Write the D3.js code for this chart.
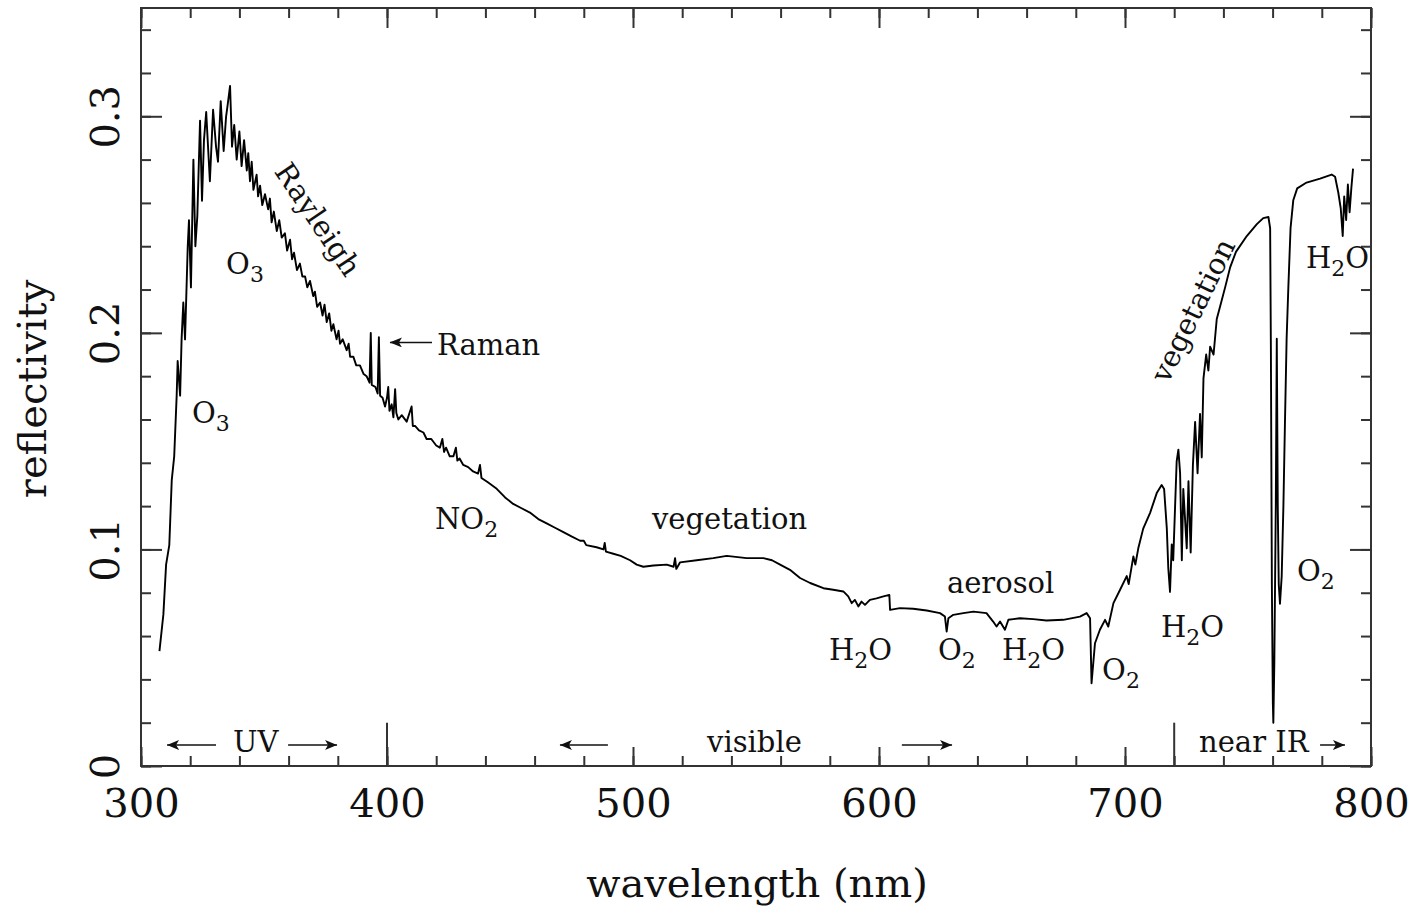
<!DOCTYPE html>
<html>
<head>
<meta charset="utf-8">
<script src="https://cdn.jsdelivr.net/npm/d3@7"></script>
<style>
  body { margin: 0; background: #fff; }
  svg { display: block; }
  text { font-family: "DejaVu Serif", "Liberation Serif", serif; fill: #111; }
</style>
</head>
<body>
<div id="vis-container"></div>
<script>

////////////////////////////////////
/////////////// Data ///////////////
////////////////////////////////////

// [wavelength nm, reflectivity], region by region
const uvRise = [
    [307.5, 0.053], [309.1, 0.070], [310.2, 0.093], [311.5, 0.102], [312.5, 0.132], [313.5, 0.143],
    [314.5, 0.171], [314.9, 0.187], [315.9, 0.171], [316.5, 0.197], [317.2, 0.214], [317.9, 0.197],
    [319.0, 0.240], [319.5, 0.252], [320.3, 0.221], [321.3, 0.280], [322.1, 0.240], [322.9, 0.254],
    [324.0, 0.298], [324.8, 0.261], [325.6, 0.289], [326.5, 0.302], [328.0, 0.270], [329.3, 0.303],
    [330.5, 0.286], [331.3, 0.279], [332.4, 0.307], [333.6, 0.284], [334.6, 0.300], [335.2, 0.305],
    [336.2, 0.314], [337.0, 0.286], [337.9, 0.296], [338.9, 0.280], [340.0, 0.293], [340.9, 0.277],
    [341.9, 0.289], [343.0, 0.275], [343.6, 0.283], [344.3, 0.270], [345.0, 0.279], [345.7, 0.266],
    [347.0, 0.273], [347.6, 0.263], [348.4, 0.268], [349.3, 0.259], [350.4, 0.264], [351.7, 0.257],
    [352.4, 0.262], [353.1, 0.251], [354.0, 0.256], [355.2, 0.247], [356.2, 0.252], [357.2, 0.244],
    [358.5, 0.246], [359.4, 0.238], [360.6, 0.243], [361.4, 0.234], [362.2, 0.237], [363.4, 0.229],
    [364.6, 0.232], [365.6, 0.226]
]

const rayleighTail = [
    [366.7, 0.226], [367.6, 0.221], [368.7, 0.224], [370.0, 0.217], [370.7, 0.219], [371.6, 0.212],
    [372.8, 0.214], [373.8, 0.208], [374.6, 0.213], [375.5, 0.205], [376.5, 0.209], [377.4, 0.201],
    [378.2, 0.204], [379.5, 0.197], [380.3, 0.201], [380.9, 0.195], [382.0, 0.197], [383.6, 0.192],
    [384.4, 0.195], [385.0, 0.189], [386.3, 0.189], [387.5, 0.185], [389.0, 0.185], [390.5, 0.181],
    [391.7, 0.180], [392.9, 0.177], [393.4, 0.200], [393.8, 0.176], [395.3, 0.175], [396.2, 0.172],
    [396.7, 0.198], [397.2, 0.171], [398.2, 0.170], [399.2, 0.166], [400.0, 0.170], [400.5, 0.175],
    [401.0, 0.164], [401.9, 0.167], [402.6, 0.161], [403.3, 0.174], [403.8, 0.163], [404.6, 0.160],
    [406.0, 0.162], [408.0, 0.159], [410.0, 0.166], [410.5, 0.157], [411.4, 0.157], [413.0, 0.155],
    [414.8, 0.154], [416.1, 0.151], [418.0, 0.151], [420.0, 0.148], [421.5, 0.147], [422.5, 0.151],
    [423.2, 0.145], [424.0, 0.147], [425.5, 0.143], [427.0, 0.143], [428.0, 0.147], [428.6, 0.141],
    [429.5, 0.142], [431.0, 0.139], [433.0, 0.138], [435.0, 0.136], [437.0, 0.135], [437.8, 0.139],
    [438.4, 0.133], [441.0, 0.131], [444.6, 0.128], [448.0, 0.124], [451.3, 0.121], [454.7, 0.119],
    [458.1, 0.117], [461.5, 0.114], [464.9, 0.112], [468.3, 0.110], [471.7, 0.108], [475.0, 0.106],
    [478.5, 0.104], [480.0, 0.104], [481.0, 0.102], [485.2, 0.101], [488.0, 0.100], [488.5, 0.103],
    [489.0, 0.099], [492.0, 0.098], [495.0, 0.097], [498.8, 0.095], [501.5, 0.093], [504.2, 0.092],
    [508.3, 0.0926], [513.7, 0.093], [516.5, 0.092], [517.1, 0.096], [517.6, 0.091], [519.1, 0.094],
    [525.9, 0.095], [532.6, 0.096], [538.1, 0.097], [546.2, 0.096], [553.0, 0.096], [556.5, 0.095],
    [559.8, 0.093]
]

const redBands = [
    [563.8, 0.0906], [567.9, 0.0868], [572.0, 0.0845], [577.4, 0.0821], [581.4, 0.0814], [585.5, 0.0806],
    [587.5, 0.0783], [588.9, 0.0752], [590.2, 0.0767], [591.6, 0.0737], [592.9, 0.0759], [594.3, 0.0744],
    [596.3, 0.0767], [599.0, 0.0774], [601.8, 0.0783], [604.2, 0.079], [604.5, 0.0721], [608.5, 0.0729],
    [613.9, 0.0726], [619.4, 0.0718], [624.8, 0.0706], [626.8, 0.069], [627.5, 0.0621], [628.2, 0.0682],
    [630.2, 0.0698], [634.3, 0.0706], [638.4, 0.0713], [643.7, 0.0706], [646.4, 0.0667], [647.8, 0.0644],
    [649.2, 0.0667], [651.2, 0.0629], [652.6, 0.0675], [654.6, 0.0678], [657.3, 0.0682], [662.7, 0.0678],
    [668.1, 0.0672], [674.9, 0.0675], [681.7, 0.069], [684.4, 0.0706], [685.8, 0.0682], [686.4, 0.0382],
    [687.8, 0.0567], [689.8, 0.0629], [691.9, 0.0675], [693.2, 0.0644], [695.3, 0.0752], [698.0, 0.0814]
]

const nearIR = [
    [700.7, 0.0877], [701.5, 0.084], [703.4, 0.0968], [704.2, 0.093], [705.4, 0.1005], [707.4, 0.1096],
    [710.2, 0.1169], [712.9, 0.126], [714.9, 0.1297], [715.9, 0.1279], [717.0, 0.1096], [717.6, 0.0913],
    [718.3, 0.0804], [719.0, 0.1023], [719.6, 0.095], [721.0, 0.1406], [721.7, 0.1461], [722.4, 0.1352],
    [723.1, 0.095], [723.7, 0.1279], [725.1, 0.1005], [725.8, 0.1315], [726.7, 0.0986], [727.6, 0.1388],
    [728.5, 0.1589], [729.5, 0.1352], [730.5, 0.1626], [731.2, 0.1425], [731.9, 0.179], [733.0, 0.19],
    [733.9, 0.1826], [734.6, 0.1936], [736.0, 0.19], [737.3, 0.2064], [738.6, 0.2119], [740.7, 0.221],
    [742.7, 0.2301], [745.1, 0.2374], [749.5, 0.2447], [753.6, 0.2502], [756.2, 0.253], [758.3, 0.2535],
    [759.0, 0.2484], [759.3, 0.1936], [759.7, 0.084], [760.1, 0.0292], [760.3, 0.02], [760.7, 0.0475],
    [761.3, 0.1205], [761.7, 0.1973], [762.1, 0.12], [762.5, 0.084], [763.0, 0.0749], [763.7, 0.0877],
    [764.4, 0.1205], [765.0, 0.1571], [765.7, 0.1973], [766.4, 0.221], [767.3, 0.2484], [768.4, 0.2612],
    [770.0, 0.2667], [773.8, 0.2694], [779.3, 0.2712], [784.0, 0.2731], [785.4, 0.2721], [786.7, 0.2648],
    [787.7, 0.2575], [788.5, 0.2447], [789.1, 0.263], [789.9, 0.2521], [790.6, 0.2685], [791.3, 0.2557],
    [792.0, 0.2667], [792.7, 0.2758]
]

const xMajorTicks = [300, 400, 500, 600, 700, 800]
const yMajorTicks = [0, 0.1, 0.2, 0.3]
const regionBreaks = [400, 720]

// absorber / feature labels: text, wavelength, reflectivity (anchor of text start)
const featureLabels = [
    { text: 'O_3', nm: 334.6, r: 0.2274 },
    { text: 'O_3', nm: 320.7, r: 0.1586 },
    { text: 'Raman', nm: 420.3, r: 0.1896 },
    { text: 'NO_2', nm: 419.5, r: 0.1093 },
    { text: 'vegetation', nm: 507.7, r: 0.1093 },
    { text: 'aerosol', nm: 627.6, r: 0.0800 },
    { text: 'H_2O', nm: 579.7, r: 0.0490 },
    { text: 'O_2', nm: 624.0, r: 0.0490 },
    { text: 'H_2O', nm: 650.0, r: 0.0490 },
    { text: 'O_2', nm: 690.7, r: 0.0398 },
    { text: 'H_2O', nm: 714.6, r: 0.0596 },
    { text: 'O_2', nm: 769.9, r: 0.0855 },
    { text: 'H_2O', nm: 773.6, r: 0.2300 }
]
const rotatedLabels = [
    { text: 'Rayleigh', nm: 372.0, r: 0.2524, rot: 56 },
    { text: 'vegetation', nm: 727.6, r: 0.2104, rot: -64 }
]
// spectral regions along the bottom: text start, arrows [from, to]
const regions = [
    { text: 'UV', nm: 337.4, arrows: [[330.5, 310.6], [359.8, 379.7]] },
    { text: 'visible', nm: 530.1, arrows: [[489.8, 470.3], [609.3, 629.7]] },
    { text: 'near IR', nm: 730.1, arrows: [[779.3, 789.4]] }
]
const ramanArrow = { from: 418.3, to: 401.2, r: 0.1956 }

////////////////////////////////////
///////////// SVG Setup ////////////
////////////////////////////////////

const svgWidth = 1416
const svgHeight = 907
const margin = { left: 141, right: 45, top: 8, bottom: 141 }
const width = svgWidth - margin.left - margin.right
const height = svgHeight - margin.top - margin.bottom

const root = d3.select('#vis-container')
    .append('svg')
    .attr('width', svgWidth)
    .attr('height', svgHeight)

root.append('defs').append('marker')
    .attr('id', 'head')
    .attr('viewBox', '0 0 12 10')
    .attr('refX', 12).attr('refY', 5)
    .attr('markerWidth', 12).attr('markerHeight', 10)
    .attr('markerUnits', 'userSpaceOnUse')
    .attr('orient', 'auto')
    .append('path')
    .attr('d', 'M0,0 L12,5 L0,10 L3,5 Z')
    .attr('fill', '#111')

const svg = root.append('g')
    .attr('transform', `translate(${margin.left},${margin.top})`)

////////////////////////////////////
/////////////// Scales /////////////
////////////////////////////////////

const xScale = d3.scaleLinear().domain([300, 800]).range([0, width])
const yScale = d3.scaleLinear().domain([0, 0.35]).range([height, 0])

////////////////////////////////////
////////////// Axis ////////////////
////////////////////////////////////

const xMinor = d3.range(300, 801, 20)
const yMinor = d3.range(0, 18).map(i => i * 0.02)

function styleAxis(g) {
    g.select('.domain').remove()
    g.selectAll('.tick line').attr('stroke', '#333').attr('stroke-width', 2)
}

// bottom
svg.append('g').attr('transform', `translate(0,${height})`)
    .call(d3.axisBottom(xScale).tickValues(xMinor).tickSize(-10).tickFormat(''))
    .call(styleAxis)
svg.append('g').attr('transform', `translate(0,${height})`)
    .call(d3.axisBottom(xScale).tickValues(xMajorTicks).tickSize(-19).tickFormat(d3.format('d')))
    .call(styleAxis)
    .call(g => g.selectAll('text')
        .attr('y', 51).attr('dy', 0)
        .attr('font-size', 40).attr('fill', '#111'))

// top
svg.append('g')
    .call(d3.axisTop(xScale).tickValues(xMinor).tickSize(-10).tickFormat(''))
    .call(styleAxis)
svg.append('g')
    .call(d3.axisTop(xScale).tickValues(xMajorTicks).tickSize(-20).tickFormat(''))
    .call(styleAxis)

// left
svg.append('g')
    .call(d3.axisLeft(yScale).tickValues(yMinor).tickSize(-10).tickFormat(''))
    .call(styleAxis)
svg.append('g')
    .call(d3.axisLeft(yScale).tickValues(yMajorTicks).tickSize(-21)
        .tickFormat(d => d === 0 ? '0' : d.toFixed(1)))
    .call(styleAxis)
    .call(g => g.selectAll('text')
        .attr('x', 0).attr('y', 0).attr('dy', 0)
        .attr('text-anchor', 'middle')
        .attr('transform', 'translate(-22,0) rotate(-90)')
        .attr('font-size', 40).attr('fill', '#111'))

// right
svg.append('g').attr('transform', `translate(${width},0)`)
    .call(d3.axisRight(yScale).tickValues(yMinor).tickSize(-10).tickFormat(''))
    .call(styleAxis)
svg.append('g').attr('transform', `translate(${width},0)`)
    .call(d3.axisRight(yScale).tickValues(yMajorTicks).tickSize(-21).tickFormat(''))
    .call(styleAxis)

// frame
svg.append('rect')
    .attr('width', width).attr('height', height)
    .attr('fill', 'none').attr('stroke', '#333').attr('stroke-width', 2)

// UV | visible | near IR separators
svg.selectAll('.sep')
    .data(regionBreaks)
    .join('line')
    .attr('class', 'sep')
    .attr('x1', d => xScale(d)).attr('x2', d => xScale(d))
    .attr('y1', yScale(0)).attr('y2', yScale(0.02))
    .attr('stroke', '#333').attr('stroke-width', 2)

// axis titles
svg.append('text')
    .attr('x', xScale(550) + 1).attr('y', height + 131)
    .attr('text-anchor', 'middle')
    .attr('font-size', 40)
    .text('wavelength (nm)')

svg.append('text')
    .attr('transform', `translate(${-95},${height / 2 + 2}) rotate(-90)`)
    .attr('text-anchor', 'middle')
    .attr('font-size', 40)
    .text('reflectivity')

////////////////////////////////////
///////////// Spectrum /////////////
////////////////////////////////////

const spectrum = uvRise.concat(rayleighTail, redBands, nearIR)

const line = d3.line()
    .x(d => xScale(d[0]))
    .y(d => yScale(d[1]))

svg.append('path')
    .datum(spectrum)
    .attr('d', line)
    .attr('fill', 'none')
    .attr('stroke', '#000')
    .attr('stroke-width', 1.9)
    .attr('stroke-linejoin', 'round')

////////////////////////////////////
///////////// Labels ///////////////
////////////////////////////////////

// writes "H_2O" style text with lowered subscripts
function chem(sel, str) {
    const parts = str.split(/_(\d)/)
    parts.forEach((p, i) => {
        if (!p) return
        const sub = i % 2 === 1
        sel.append('tspan')
            .attr('font-size', sub ? 22 : null)
            .attr('dy', sub ? 8 : (i > 0 ? -8 : 0))
            .text(p)
    })
}

const labelSize = 29

svg.selectAll('.feature')
    .data(featureLabels)
    .join('text')
    .attr('class', 'feature')
    .attr('x', d => xScale(d.nm))
    .attr('y', d => yScale(d.r))
    .attr('font-size', labelSize)
    .each(function (d) { chem(d3.select(this), d.text) })

svg.selectAll('.rotated')
    .data(rotatedLabels)
    .join('text')
    .attr('class', 'rotated')
    .attr('text-anchor', 'middle')
    .attr('dy', '0.35em')
    .attr('font-size', labelSize)
    .attr('transform', d => `translate(${xScale(d.nm)},${yScale(d.r)}) rotate(${d.rot})`)
    .text(d => d.text)

// Raman pointer
svg.append('line')
    .attr('x1', xScale(ramanArrow.from)).attr('x2', xScale(ramanArrow.to))
    .attr('y1', yScale(ramanArrow.r)).attr('y2', yScale(ramanArrow.r))
    .attr('stroke', '#111').attr('stroke-width', 1.5)
    .attr('marker-end', 'url(#head)')

// spectral regions
const regionY = yScale(0.0065)
const arrowY = yScale(0.0097)

svg.selectAll('.region')
    .data(regions)
    .join('text')
    .attr('class', 'region')
    .attr('x', d => xScale(d.nm))
    .attr('y', regionY)
    .attr('font-size', labelSize)
    .attr('xml:space', 'preserve')
    .text(d => d.text)

svg.selectAll('.region-arrow')
    .data(regions.flatMap(d => d.arrows))
    .join('line')
    .attr('class', 'region-arrow')
    .attr('x1', d => xScale(d[0])).attr('x2', d => xScale(d[1]))
    .attr('y1', arrowY).attr('y2', arrowY)
    .attr('stroke', '#111').attr('stroke-width', 1.5)
    .attr('marker-end', 'url(#head)')

</script>
</body>
</html>
